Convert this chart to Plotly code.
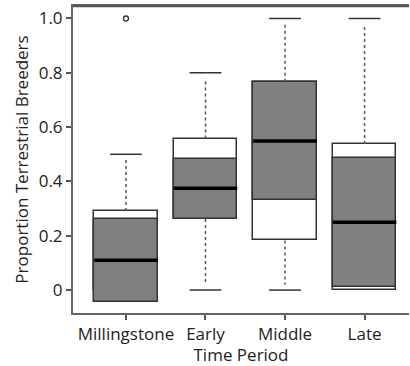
import plotly.graph_objects as go

# ---- data ----
periods = ["Millingstone", "Early", "Middle", "Late"]
box_q1 = [0.0, 0.262, 0.183, 0.0]
box_q3 = [0.291, 0.558, 0.766, 0.538]
whisker_lo = [0.0, 0.0, 0.0, 0.0]
whisker_hi = [0.5, 0.8, 1.0, 1.0]
gray_lo = [-0.045, 0.262, 0.333, 0.012]
gray_hi = [0.263, 0.481, 0.767, 0.486]
medians = [0.110, 0.375, 0.549, 0.250]
outlier_group = [1]
outlier_val = [1.0]
ytick_vals = [0, 0.2, 0.4, 0.6, 0.8, 1.0]
ytick_text = ["0", "0.2", "0.4", "0.6", "0.8", "1.0"]

pos = list(range(1, len(periods) + 1))
BOXW = 0.8
CAPW = 0.4
FONT = "Open Sans"
EDGE = "#333333"

fig = go.Figure()

# white boxes (interquartile)
fig.add_trace(go.Bar(
    x=pos, y=[h - l for l, h in zip(box_q1, box_q3)], base=box_q1,
    width=BOXW, marker=dict(color="white", line=dict(color=EDGE, width=1.5)),
    showlegend=False, hoverinfo="skip"))
# gray boxes
fig.add_trace(go.Bar(
    x=pos, y=[h - l for l, h in zip(gray_lo, gray_hi)], base=gray_lo,
    width=BOXW, marker=dict(color="#808080", line=dict(color=EDGE, width=1.5)),
    showlegend=False, hoverinfo="skip"))

# whiskers (dotted) and caps
wx, wy, cx, cy = [], [], [], []
for p, q1, q3, g1, g3, lo, hi in zip(pos, box_q1, box_q3, gray_lo, gray_hi, whisker_lo, whisker_hi):
    top = max(q3, g3)
    bot = min(q1, g1)
    if hi > top:
        wx += [p, p, None]; wy += [top, hi - 0.02, None]
        cx += [p - CAPW / 2, p + CAPW / 2, None]; cy += [hi, hi, None]
    if lo < bot:
        wx += [p, p, None]; wy += [bot, lo + 0.02, None]
        cx += [p - CAPW / 2, p + CAPW / 2, None]; cy += [lo, lo, None]
fig.add_trace(go.Scatter(x=wx, y=wy, mode="lines",
                         line=dict(color="#555555", width=1.5, dash="dot"),
                         showlegend=False, hoverinfo="skip"))
fig.add_trace(go.Scatter(x=cx, y=cy, mode="lines",
                         line=dict(color=EDGE, width=1.5),
                         showlegend=False, hoverinfo="skip"))

# medians
mx, my = [], []
for p, m in zip(pos, medians):
    mx += [p - BOXW / 2, p + BOXW / 2, None]; my += [m, m, None]
fig.add_trace(go.Scatter(x=mx, y=my, mode="lines",
                         line=dict(color="black", width=3.5),
                         showlegend=False, hoverinfo="skip"))

# outliers
fig.add_trace(go.Scatter(x=outlier_group, y=outlier_val, mode="markers",
                         marker=dict(symbol="circle-open", size=5,
                                     color=EDGE, line=dict(width=1.3)),
                         showlegend=False, hoverinfo="skip"))

# top frame line
fig.add_shape(type="line", xref="paper", yref="paper", x0=0, x1=1, y0=1.0, y1=1.0,
              layer="above", line=dict(color="#555555", width=2.5))

fig.update_layout(
    width=410, height=366,
    margin=dict(l=73, r=1, t=6, b=53),
    paper_bgcolor="white", plot_bgcolor="white",
    barmode="overlay", bargap=0,
    font=dict(family=FONT, size=17, color="#222222"),
    xaxis=dict(range=[0.334, 4.559], tickvals=pos, ticktext=periods,
               showgrid=False, zeroline=False, showline=True, mirror=True,
               linecolor="#666666", linewidth=2,
               ticks="outside", ticklen=5, tickcolor="#555555", tickwidth=1.5,
               title=dict(text="Time Period", standoff=0, font=dict(size=17))),
    yaxis=dict(range=[-0.0844, 1.046], tickvals=ytick_vals, ticktext=ytick_text,
               showgrid=False, zeroline=False, showline=True,
               linecolor="#666666", linewidth=2,
               ticks="outside", ticklen=5, tickcolor="#555555", tickwidth=1.5,
               title=dict(text="Proportion Terrestrial Breeders", standoff=6,
                          font=dict(size=17))),
)

fig.write_html("out.html", config={"displayModeBar": False},
               post_script="document.body.style.margin='0';")
